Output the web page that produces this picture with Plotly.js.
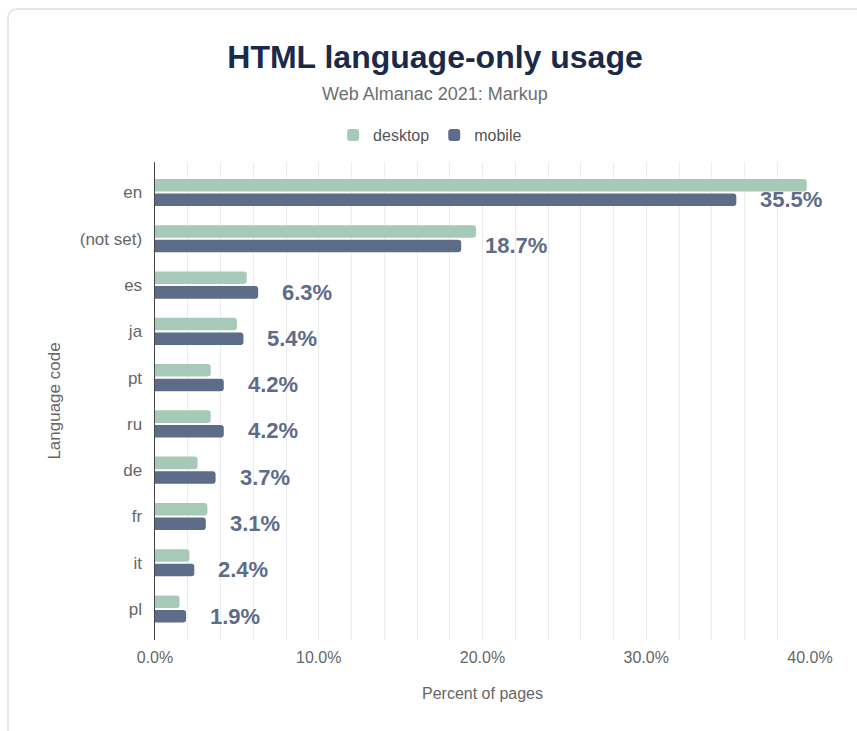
<!DOCTYPE html>
<html>
<head>
<meta charset="utf-8">
<script src="https://cdn.plot.ly/plotly-3.0.1.min.js"></script>
<style>
  html, body { margin: 0; padding: 0; background: #fff; overflow: hidden; }
  #card { position: absolute; left: 7px; top: 8px; width: 900px; height: 800px;
          border: 2px solid #e6e6e6; border-radius: 10px; box-sizing: border-box; }
  #chart { position: absolute; left: 0; top: 0; width: 857px; height: 731px; }
</style>
</head>
<body>
<div id="card"></div>
<div id="chart"></div>
<script>
const categories = ["en", "(not set)", "es", "ja", "pt", "ru", "de", "fr", "it", "pl"];
const desktopValues = [39.8, 19.6, 5.6, 5.0, 3.4, 3.4, 2.6, 3.2, 2.1, 1.5];
const mobileValues = [35.5, 18.7, 6.3, 5.4, 4.2, 4.2, 3.7, 3.1, 2.4, 1.9];
const seriesNames = ["desktop", "mobile"];
const xTickValues = [0, 10, 20, 30, 40];
const xTickLabels = xTickValues.map(v => v.toFixed(1) + "%");

const desktopColor = "#a6c9b8";
const mobileColor = "#5d6c88";
const fontFamily = "'Liberation Sans', Arial, Helvetica, sans-serif";

const traces = [
  {
    type: "bar", orientation: "h", name: seriesNames[0],
    y: categories, x: desktopValues,
    marker: { color: desktopColor, cornerradius: 3 },
    hoverinfo: "x+y"
  },
  {
    type: "bar", orientation: "h", name: seriesNames[1],
    y: categories, x: mobileValues,
    marker: { color: mobileColor, cornerradius: 3 },
    hoverinfo: "x+y"
  }
];

const annotations = mobileValues.map((v, i) => ({
  x: v, y: categories[i], xref: "x", yref: "y",
  text: v.toFixed(1) + "%", showarrow: false,
  xanchor: "left", yanchor: "middle", xshift: 22, yshift: -7,
  font: { family: fontFamily, size: 22, color: mobileColor, weight: 700 }
}));

annotations.push({
  text: "Web Almanac 2021: Markup", showarrow: false,
  xref: "paper", yref: "paper", x: 0.4275, y: 1.142,
  xanchor: "center", yanchor: "middle",
  font: { family: fontFamily, size: 18, color: "#6e6e6e" }
});

const layout = {
  width: 857, height: 731,
  margin: { l: 155, r: 47, t: 162, b: 91 },
  paper_bgcolor: "rgba(0,0,0,0)",
  plot_bgcolor: "rgba(0,0,0,0)",
  font: { family: fontFamily, color: "#666" },
  title: {
    text: "HTML language-only usage",
    x: 0.5076, xref: "container", xanchor: "center",
    y: 0.922, yref: "container", yanchor: "middle",
    font: { family: fontFamily, size: 32, color: "#1b2a4a", weight: 700 }
  },
  barmode: "group",
  bargap: 0.37,
  bargroupgap: 0.14,
  showlegend: true,
  legend: {
    orientation: "h", x: 0.42, xanchor: "center", y: 1.0565, yanchor: "middle",
    traceorder: "normal",
    font: { family: fontFamily, size: 16, color: "#555" }
  },
  xaxis: {
    range: [0, 40],
    tickmode: "array",
    tickvals: xTickValues,
    ticktext: xTickLabels,
    showgrid: true, gridcolor: "#ececec", gridwidth: 1,
    minor: { dtick: 2, showgrid: true, gridcolor: "#ececec", gridwidth: 1 },
    zeroline: false, showline: false, ticks: "",
    ticklabelstandoff: 6,
    tickfont: { family: fontFamily, size: 16, color: "#666" },
    title: { text: "Percent of pages", standoff: 22,
             font: { family: fontFamily, size: 16, color: "#666" } },
    fixedrange: true
  },
  yaxis: {
    type: "category",
    categoryorder: "array", categoryarray: categories,
    range: [9.67, -0.66],
    showgrid: false, zeroline: false,
    showline: true, linecolor: "#444", linewidth: 1.5,
    ticks: "", ticklabelstandoff: 8,
    tickfont: { family: fontFamily, size: 17, color: "#666" },
    title: { text: "Language code", standoff: 15,
             font: { family: fontFamily, size: 17, color: "#666" } },
    fixedrange: true
  },
  annotations: annotations
};

Plotly.newPlot("chart", traces, layout, { displayModeBar: false, staticPlot: true });
</script>
</body>
</html>
